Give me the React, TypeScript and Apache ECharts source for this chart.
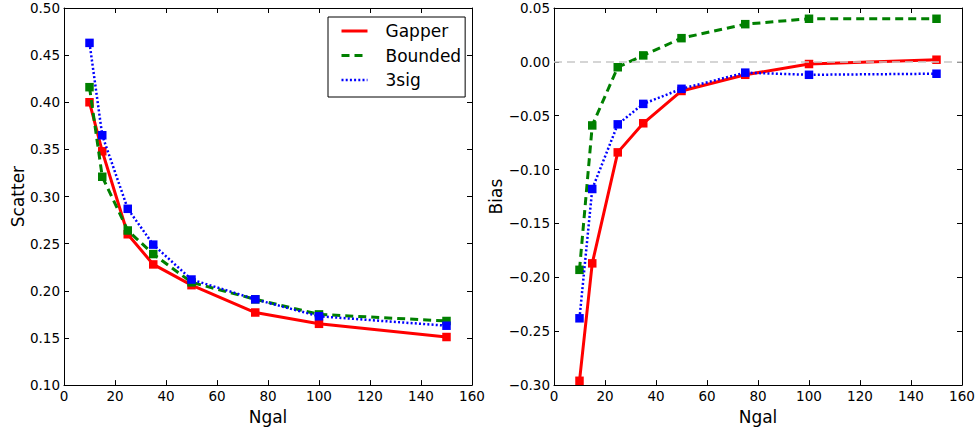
import React, { useEffect, useRef } from "react";
import * as echarts from "echarts";

const ngal = [10, 15, 25, 35, 50, 75, 100, 150];
const scatterGapper = [0.400, 0.348, 0.260, 0.228, 0.206, 0.177, 0.165, 0.151];
const scatterBounded = [0.416, 0.321, 0.264, 0.239, 0.209, 0.191, 0.175, 0.168];
const scatter3sig = [0.463, 0.365, 0.287, 0.249, 0.212, 0.191, 0.173, 0.163];
const biasGapper = [-0.296, -0.187, -0.084, -0.057, -0.027, -0.012, -0.002, 0.002];
const biasBounded = [-0.193, -0.059, -0.005, 0.006, 0.022, 0.035, 0.040, 0.040];
const bias3sig = [-0.238, -0.118, -0.058, -0.039, -0.025, -0.010, -0.012, -0.011];
const seriesNames = ["Gapper", "Bounded", "3sig"];
const colors = ["#ff0000", "#008000", "#0000ff"];
const FONT = "DejaVu Sans";

const lineStyles: any[] = [
  { color: colors[0], width: 3, type: "solid" },
  { color: colors[1], width: 3, type: [8, 5] },
  { color: colors[2], width: 2.5, type: [2, 2.2] },
];

const pairs = (ys: number[]) => ngal.map((x, i) => [x, ys[i]]);

export default function App() {
  const ref = useRef<HTMLDivElement>(null);
  useEffect(() => {
    const chart = echarts.init(ref.current!, null, { renderer: "svg" });
    const grids = [
      { left: 64, top: 8, width: 408, height: 379 },
      { left: 554, top: 8, width: 408, height: 379 },
    ];
    const axisLine = { show: true, onZero: false, lineStyle: { color: "#000", width: 1 } };
    const tick = { show: true, inside: true, length: 5, lineStyle: { color: "#000", width: 1 } };
    const lbl = { color: "#000", fontSize: 13.5, fontFamily: FONT };
    const xAxes: any[] = [];
    const yAxes: any[] = [];
    [0, 1].forEach((g) => {
      xAxes.push({
        type: "value", gridIndex: g, min: 0, max: 160, interval: 20, position: "bottom",
        name: "Ngal", nameLocation: "middle", nameGap: 19,
        nameTextStyle: { color: "#000", fontSize: 17, fontFamily: FONT },
        axisLine, axisTick: tick, splitLine: { show: false },
        axisLabel: { ...lbl, margin: 4, showMinLabel: true, showMaxLabel: true },
      });
      xAxes.push({
        type: "value", gridIndex: g, min: 0, max: 160, interval: 20, position: "top",
        axisLine, axisTick: tick, splitLine: { show: false }, axisLabel: { show: false },
      });
    });
    const fmtL = (v: number) => (Math.round(v * 100) / 100).toFixed(2);
    const fmtR = (v: number) => {
      const r = Math.round(v * 100) / 100;
      return (r < 0 ? "\u2212" : "") + Math.abs(r).toFixed(2);
    };
    yAxes.push({
      type: "value", gridIndex: 0, min: 0.1, max: 0.5, interval: 0.05, position: "left",
      name: "Scatter", nameLocation: "middle", nameGap: 37,
      nameTextStyle: { color: "#000", fontSize: 17, fontFamily: FONT },
      axisLine, axisTick: tick, splitLine: { show: false },
      axisLabel: { ...lbl, margin: 4, formatter: fmtL, showMinLabel: true, showMaxLabel: true },
    });
    yAxes.push({
      type: "value", gridIndex: 0, min: 0.1, max: 0.5, interval: 0.05, position: "right",
      axisLine, axisTick: tick, splitLine: { show: false }, axisLabel: { show: false },
    });
    yAxes.push({
      type: "value", gridIndex: 1, min: -0.3, max: 0.05, interval: 0.05, position: "left",
      name: "Bias", nameLocation: "middle", nameGap: 48,
      nameTextStyle: { color: "#000", fontSize: 17, fontFamily: FONT },
      axisLine, axisTick: tick, splitLine: { show: false },
      axisLabel: { ...lbl, margin: 4, formatter: fmtR, showMinLabel: true, showMaxLabel: true },
    });
    yAxes.push({
      type: "value", gridIndex: 1, min: -0.3, max: 0.05, interval: 0.05, position: "right",
      axisLine, axisTick: tick, splitLine: { show: false }, axisLabel: { show: false },
    });

    const series: any[] = [];
    const mk = (name: string, i: number, ys: number[], xi: number, yi: number, extra: any = {}) => ({
      type: "line", name, xAxisIndex: xi, yAxisIndex: yi, data: pairs(ys),
      symbol: "rect", symbolSize: 8.5, lineStyle: lineStyles[i],
      itemStyle: { color: colors[i] }, z: 2 + i, ...extra,
    });
    series.push(mk("Gapper", 0, scatterGapper, 0, 0));
    series.push(mk("Bounded", 1, scatterBounded, 0, 0));
    series.push(mk("3sig", 2, scatter3sig, 0, 0));
    series.push(mk("Gapper", 0, biasGapper, 2, 2, {
      markLine: {
        silent: true, symbol: "none", label: { show: false },
        lineStyle: { color: "#c8c8c8", type: [8, 5], width: 1.5 },
        data: [{ yAxis: 0 }],
      },
    }));
    series.push(mk("Bounded", 1, biasBounded, 2, 2));
    series.push(mk("3sig", 2, bias3sig, 2, 2));

    chart.setOption({
      animation: false,
      grid: grids,
      xAxis: xAxes,
      yAxis: yAxes,
      legend: {
        data: seriesNames.map((n, i) => ({
          name: n,
          itemStyle: { opacity: 0 },
          lineStyle: { width: lineStyles[i].width },
        })),
        orient: "vertical",
        left: 328, top: 17,
        backgroundColor: "#fff",
        borderColor: "#000", borderWidth: 1, borderRadius: 0,
        padding: [5, 4, 8, 12],
        itemWidth: 26, itemHeight: 14, itemGap: 6.5,
        selectedMode: false,
        textStyle: { color: "#000", fontSize: 17, fontFamily: FONT, lineHeight: 18, padding: [0, 0, 0, 13] },
      },
      series,
    });
    return () => chart.dispose();
  }, []);
  return (
    <div
      ref={ref}
      style={{ position: "fixed", left: 0, top: 0, width: 979, height: 430, background: "#fff" }}
    />
  );
}
